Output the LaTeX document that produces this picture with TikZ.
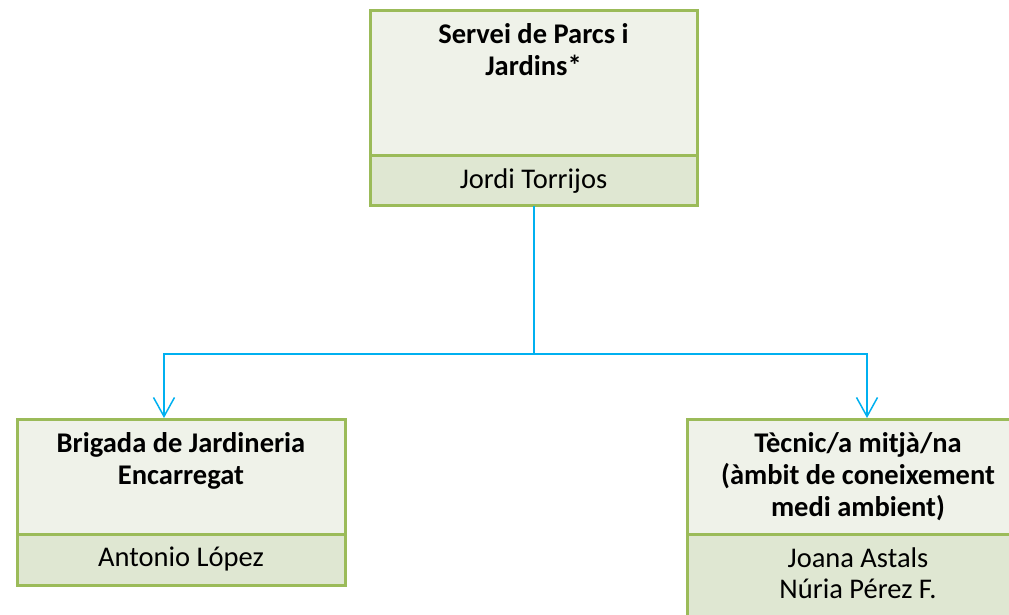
\documentclass[tikz,border=0pt]{standalone}
\usepackage{fontspec}
\setmainfont{Carlito}
\usetikzlibrary{arrows.meta}
\definecolor{boxborder}{HTML}{9BBB59}
\definecolor{boxlight}{HTML}{EFF2E9}
\definecolor{boxdark}{HTML}{DFE7D2}
\definecolor{linkblue}{HTML}{00B0F0}
\begin{document}
\begin{tikzpicture}[x=1pt,y=-1pt,
  upper/.style={draw=boxborder,fill=boxlight,line width=3pt},
  lower/.style={draw=boxborder,fill=boxdark,line width=3pt},
  title/.style={anchor=north,inner sep=0pt,align=center,font=\fontsize{28.5}{32}\selectfont\bfseries},
  person/.style={anchor=north,inner sep=0pt,align=center,font=\fontsize{28.5}{31.7}\selectfont},
  link/.style={draw=linkblue,line width=1.5pt},
  trunk/.style={draw=linkblue,line width=2.5pt},
  tip/.style={-{Straight Barb[length=19pt,width=21pt,line width=1.5pt]}}
]
\useasboundingbox (0,0) rectangle (1009,614);
% top box
\path[upper] (370,10) rectangle (697,155);
\path[lower] (370,155) rectangle (697,205);
\node[title] (topT) at (533.5,21.3) {\rule{0pt}{22pt}Servei de Parcs i\\Jardins*};
\node[person] (topP) at (533.5,166) {\rule{0pt}{22pt}Jordi Torrijos};
% left box
\path[upper] (17,419) rectangle (345,534);
\path[lower] (17,534) rectangle (345,585);
\node[title] (leftT) at (181,430) {\rule{0pt}{22pt}Brigada de Jardineria\\Encarregat};
\node[person] (leftP) at (181,544) {\rule{0pt}{22pt}Antonio López};
% right box
\path[upper] (687,419) rectangle (1029,534);
\path[lower] (687,534) rectangle (1029,660);
\node[title] (rightT) at (858,430) {\rule{0pt}{22pt}Tècnic/a mitjà/na\\(àmbit de coneixement\\medi ambient)};
\node[person] (rightP) at (858,545) {\rule{0pt}{22pt}Joana Astals\\Núria Pérez F.};
% connectors
\coordinate (topS) at (534,206);
\coordinate (junc) at (534,354);
\coordinate (leftIn) at (164,418);
\coordinate (rightIn) at (867,418);
\path[trunk] (topS) -- (junc);
\path[link,tip] (junc) -| (leftIn);
\path[link,tip] (junc) -| (rightIn);
\end{tikzpicture}
\end{document}
